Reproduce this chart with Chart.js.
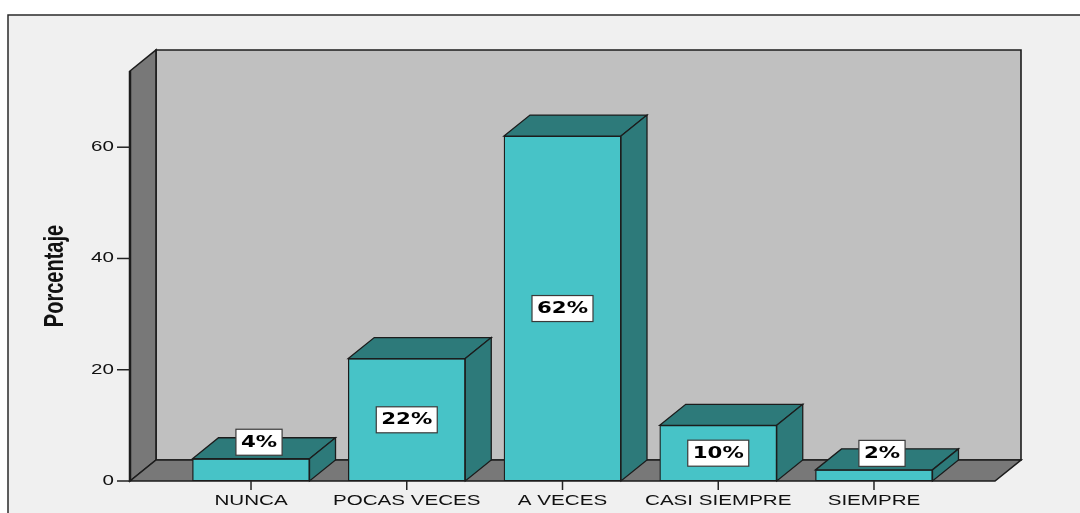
<!DOCTYPE html>
<html>
<head>
<meta charset="utf-8">
<style>
  html, body { margin: 0; padding: 0; background: #fff; }
  #wrap { width: 1080px; height: 513px; }
</style>
<script src="https://cdn.jsdelivr.net/npm/chart.js@4.4.0/dist/chart.umd.min.js"></script>
</head>
<body>
<div id="wrap"><canvas id="freqChart" width="1080" height="513"></canvas></div>
<script>
// Frequencies (percent) per answer
const categories = ['NUNCA', 'POCAS VECES', 'A VECES', 'CASI SIEMPRE', 'SIEMPRE'];
const percentages = [4, 22, 62, 10, 2];
const yTicks = [0, 20, 40, 60];
const yTitle = 'Porcentaje';

// 3D look
const DEPTH_X = 26;
const DEPTH_Y = 21;
const STRETCH = 1.42; // text is drawn a bit wider than normal
const FRONT = '#47c3c7';
const SIDE = '#2d7a7a';
const EDGE = '#1c1c1c';

function poly(ctx, pts, fill, stroke, lw) {
  ctx.beginPath();
  ctx.moveTo(pts[0][0], pts[0][1]);
  for (let i = 1; i < pts.length; i++) ctx.lineTo(pts[i][0], pts[i][1]);
  ctx.closePath();
  ctx.fillStyle = fill;
  ctx.fill();
  ctx.lineWidth = lw || 1.2;
  ctx.strokeStyle = stroke;
  ctx.stroke();
}

function wideText(ctx, text, x, y, font, align, color) {
  ctx.save();
  ctx.translate(x, y);
  ctx.scale(STRETCH, 1);
  ctx.font = font;
  ctx.textAlign = align;
  ctx.textBaseline = 'middle';
  ctx.fillStyle = color || '#111';
  ctx.fillText(text, 0, 0);
  ctx.restore();
}

const frame3d = {
  id: 'frame3d',
  beforeDraw(chart) {
    const ctx = chart.ctx;
    const a = chart.chartArea;
    const L = a.left, R = a.right, T = a.top, B = a.bottom;
    const dx = DEPTH_X, dy = DEPTH_Y;

    ctx.save();
    ctx.fillStyle = '#ffffff';
    ctx.fillRect(0, 0, chart.width, chart.height);
    ctx.fillStyle = '#f0f0f0';
    ctx.fillRect(8, 15, chart.width, chart.height);
    ctx.beginPath();
    ctx.moveTo(8, chart.height);
    ctx.lineTo(8, 15);
    ctx.lineTo(chart.width, 15);
    ctx.lineWidth = 1.5;
    ctx.strokeStyle = '#2a2a2a';
    ctx.stroke();

    // back wall, left wall, floor
    poly(ctx, [[L + dx, T - dy], [R + dx, T - dy], [R + dx, B - dy], [L + dx, B - dy]], '#c0c0c0', EDGE, 1.6);
    poly(ctx, [[L, T], [L + dx, T - dy], [L + dx, B - dy], [L, B]], '#787878', EDGE, 1.6);
    poly(ctx, [[L, B], [L + dx, B - dy], [R + dx, B - dy], [R, B]], '#787878', EDGE, 1.6);
    ctx.beginPath();
    ctx.moveTo(L, T);
    ctx.lineTo(L, B);
    ctx.lineWidth = 2.5;
    ctx.strokeStyle = EDGE;
    ctx.stroke();

    // y axis ticks
    const ys = chart.scales.y;
    ctx.lineWidth = 1.5;
    ctx.strokeStyle = '#222';
    yTicks.forEach(t => {
      const y = ys.getPixelForValue(t);
      ctx.beginPath();
      ctx.moveTo(L - 13, y);
      ctx.lineTo(L, y);
      ctx.stroke();
      wideText(ctx, String(t), L - 16, y, '14.5px "Liberation Sans", Arial, sans-serif', 'right');
    });

    // x axis ticks
    const xs = chart.scales.x;
    categories.forEach((c, i) => {
      const x = xs.getPixelForValue(i);
      ctx.beginPath();
      ctx.moveTo(x, B);
      ctx.lineTo(x, B + 9);
      ctx.stroke();
      wideText(ctx, c, x, B + 20, '14.5px "Liberation Sans", Arial, sans-serif', 'center');
    });

    // axis title
    ctx.save();
    ctx.translate(55, (T + B) / 2);
    ctx.scale(STRETCH, 1);
    ctx.rotate(-Math.PI / 2);
    ctx.font = 'bold 20px "Liberation Sans", Arial, sans-serif';
    ctx.textAlign = 'center';
    ctx.textBaseline = 'middle';
    ctx.fillStyle = '#111';
    ctx.fillText(yTitle, 0, 0);
    ctx.restore();
    ctx.restore();
  },
  afterDatasetsDraw(chart) {
    const ctx = chart.ctx;
    const dx = DEPTH_X, dy = DEPTH_Y;
    ctx.save();
    chart.getDatasetMeta(0).data.forEach(bar => {
      const l = bar.x - bar.width / 2;
      const r = bar.x + bar.width / 2;
      const t = bar.y, b = bar.base;
      poly(ctx, [[l, t], [l + dx, t - dy], [r + dx, t - dy], [r, t]], SIDE, EDGE, 1.3);
      poly(ctx, [[r, t], [r + dx, t - dy], [r + dx, b - dy], [r, b]], SIDE, EDGE, 1.3);
    });
    ctx.restore();
  },
  afterDraw(chart) {
    const ctx = chart.ctx;
    ctx.save();
    const font = 'bold 15px "DejaVu Sans", Verdana, sans-serif';
    chart.getDatasetMeta(0).data.forEach((bar, i) => {
      const txt = percentages[i] + '%';
      ctx.font = font;
      const w = ctx.measureText(txt).width * STRETCH + 10;
      const h = 26;
      let cx = bar.x, cy = (bar.y + bar.base) / 2;
      if (bar.base - bar.y < 30) {
        cx = bar.x + 8;
        cy = bar.y - 16.5;
      }
      ctx.fillStyle = '#ffffff';
      ctx.fillRect(cx - w / 2, cy - h / 2, w, h);
      ctx.lineWidth = 1.2;
      ctx.strokeStyle = '#3a3a3a';
      ctx.strokeRect(cx - w / 2, cy - h / 2, w, h);
      wideText(ctx, txt, cx, cy + 0.5, font, 'center', '#000');
    });
    ctx.restore();
  }
};

new Chart(document.getElementById('freqChart').getContext('2d'), {
  type: 'bar',
  data: {
    datasets: [
      {
        label: yTitle,
        data: percentages.map((v, i) => ({ x: i, y: v })),
        backgroundColor: FRONT,
        borderColor: EDGE,
        borderWidth: 1.3,
        borderSkipped: false,
        barThickness: 117,
      },
    ],
  },
  options: {
    responsive: false,
    animation: false,
    devicePixelRatio: 1,
    layout: {
      padding: { left: 130, top: 71, right: 85, bottom: 32 },
    },
    plugins: {
      legend: { display: false },
      tooltip: { enabled: false },
    },
    scales: {
      x: { type: 'linear', display: false, offset: false, grid: { offset: false }, min: -0.777, max: 4.777 },
      y: { display: false, min: 0, max: 73.7 },
    },
  },
  plugins: [frame3d],
});
</script>
</body>
</html>
